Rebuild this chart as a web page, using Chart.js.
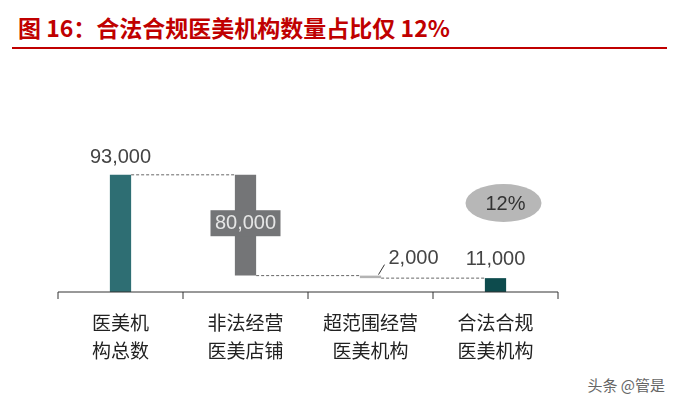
<!DOCTYPE html>
<html>
<head>
<meta charset="utf-8">
<script src="https://cdn.jsdelivr.net/npm/chart.js@4"></script>
<style>
body { margin: 0; background: #fff; font-family: "Noto Sans CJK SC", sans-serif; }
#title { position: absolute; left: 18px; top: 12px; color: #c00000; font-size: 23px; font-weight: bold; line-height: 30px; }
#rule { position: absolute; left: 12px; right: 12px; top: 47px; border-top: 2px solid #c00000; }
#wm { position: absolute; right: 14px; bottom: 8px; color: #666; font-size: 15px; }
canvas { position: absolute; left: 0; top: 0; }
</style>
</head>
<body>
<div id="title">图 16：合法合规医美机构数量占比仅 12%</div>
<div id="rule"></div>
<div id="wm">头条 @管是</div>
<canvas id="c" width="679" height="403"></canvas>
<script>
var categories = [["医美机", "构总数"], ["非法经营", "医美店铺"], ["超范围经营", "医美机构"], ["合法合规", "医美机构"]];
var lows = [0, 13000, 11000, 0];
var highs = [93000, 93000, 13000, 11000];
var valueLabels = ["93,000", "80,000", "2,000", "11,000"];
var share = "12%";
var colors = ["#2e6e73", "#747577", "#b3b3b3", "#0d4b4d"];

var overlay = {
    id: "overlay",
    afterDatasetsDraw: function (chart) {
        var ctx = chart.ctx;
        var x = chart.scales.x, y = chart.scales.y;
        var meta = chart.getDatasetMeta(0).data;
        var half = meta[0].width / 2;
        ctx.save();
        // dashed connectors
        ctx.strokeStyle = "#666";
        ctx.lineWidth = 1;
        ctx.setLineDash([3, 2]);
        for (var i = 0; i < 3; i++) {
            var yy = y.getPixelForValue(i == 0 ? highs[0] : lows[i]);
            ctx.beginPath();
            ctx.moveTo(meta[i].x + half, yy);
            ctx.lineTo(meta[i + 1].x - half, yy);
            ctx.stroke();
        }
        ctx.setLineDash([]);
        // x axis ticks
        ctx.strokeStyle = "#333";
        var base = y.getPixelForValue(0);
        ctx.beginPath();
        ctx.moveTo(x.left, base); ctx.lineTo(x.right, base);
        for (var t = 0; t <= categories.length; t++) {
            var px = x.left + (x.right - x.left) * t / categories.length;
            ctx.moveTo(px, base); ctx.lineTo(px, base + 7);
        }
        ctx.stroke();
        // category labels
        ctx.fillStyle = "#222";
        ctx.font = "19px 'Noto Sans CJK SC'";
        ctx.textAlign = "center";
        ctx.textBaseline = "middle";
        categories.forEach(function (c, k) {
            ctx.fillText(c[0], meta[k].x, 323);
            ctx.fillText(c[1], meta[k].x, 351);
        });
        // value labels
        ctx.font = "20px 'Liberation Sans'";
        ctx.fillStyle = "#444";
        ctx.fillText(valueLabels[0], meta[0].x, y.getPixelForValue(highs[0]) - 17);
        ctx.fillText(valueLabels[3], meta[3].x, y.getPixelForValue(highs[3]) - 19);
        ctx.textAlign = "left";
        ctx.fillText(valueLabels[2], meta[2].x + 18, y.getPixelForValue(highs[2]) - 17);
        ctx.beginPath();
        ctx.moveTo(meta[2].x + 8, y.getPixelForValue(highs[2]) - 1);
        ctx.lineTo(meta[2].x + 14, y.getPixelForValue(highs[2]) - 11);
        ctx.stroke();
        // cross box on bar 2
        var midY = y.getPixelForValue((lows[1] + highs[1]) / 2) - 2;
        ctx.fillStyle = colors[1];
        ctx.fillRect(meta[1].x - 35, midY - 13, 70, 26);
        ctx.fillStyle = "#e6e6e6";
        ctx.textAlign = "center";
        ctx.fillText(valueLabels[1], meta[1].x, midY);
        // share ellipse
        ctx.fillStyle = "#b7b7b7";
        ctx.beginPath();
        ctx.ellipse(meta[3].x + 8, 203, 38, 19, 0, 0, Math.PI * 2);
        ctx.fill();
        ctx.fillStyle = "#333";
        ctx.fillText(share, meta[3].x + 10, 204);
        ctx.restore();
    }
};

new Chart(document.getElementById("c"), {
    type: "bar",
    data: {
        labels: categories,
        datasets: [{
            data: lows.map(function (l, i) { return [l, highs[i]]; }),
            backgroundColor: colors,
            barPercentage: 0.17,
            categoryPercentage: 1
        }]
    },
    options: {
        responsive: false,
        animation: false,
        layout: { padding: { left: 58, right: 121, top: 103, bottom: 111 } },
        plugins: { legend: { display: false }, tooltip: { enabled: false } },
        scales: {
            x: { display: false },
            y: { display: false, min: 0, max: 150000 }
        }
    },
    plugins: [overlay]
});
</script>
</body>
</html>
